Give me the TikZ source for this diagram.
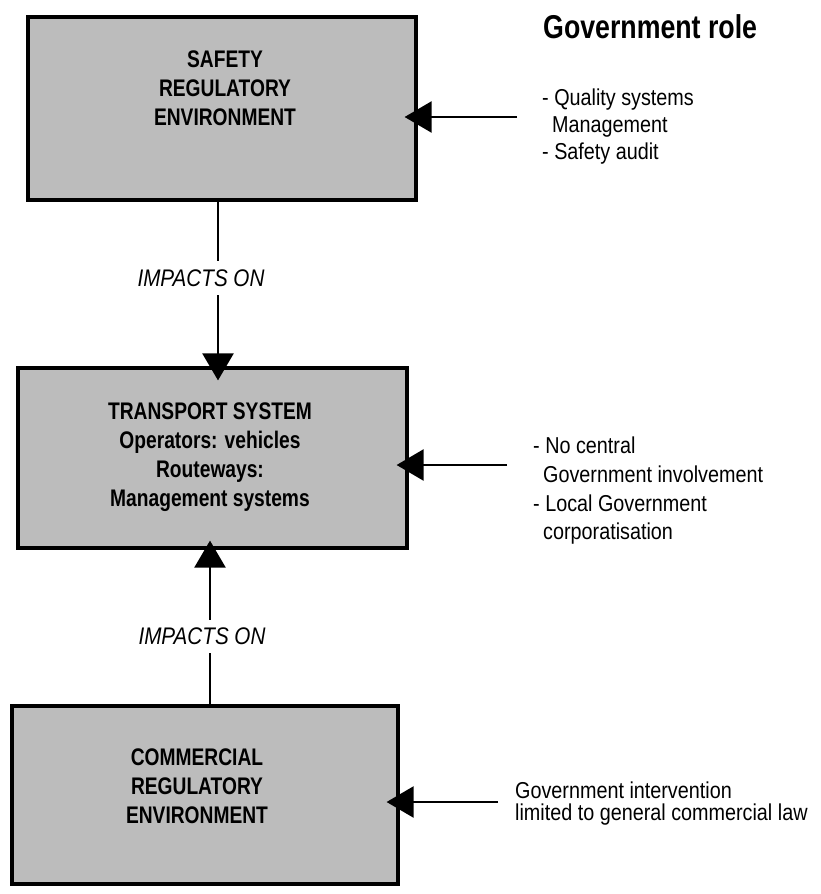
\documentclass[tikz,border=0pt]{standalone}
\usepackage{fontspec}
\setmainfont{Liberation Sans}
\newfontfamily\narrowA[FakeStretch=0.8]{Liberation Sans}
\newfontfamily\narrowB[FakeStretch=0.86]{Liberation Sans}
\newfontfamily\narrowC[FakeStretch=0.81]{Liberation Sans}
\usetikzlibrary{arrows.meta}
\definecolor{boxgray}{RGB}{188,188,188}
\begin{document}
\begin{tikzpicture}[x=1pt,y=-1pt,
  box/.style={draw, line width=3.2pt, fill=boxgray, inner sep=0pt},
  boxtext/.style={align=center, inner sep=0pt, font=\narrowA\bfseries\fontsize{24}{29}\selectfont},
  conn/.style={line width=2.4pt, -{Triangle[length=27pt,width=31pt]}},
  roletext/.style={anchor=base west, inner sep=0pt, font=\narrowB\fontsize{23}{28}\selectfont},
  impact/.style={font=\narrowB\itshape\fontsize{24}{28}\selectfont, fill=white, inner xsep=3pt}]
\useasboundingbox (0,0) rectangle (820,894);

% boxes
\node[box, minimum width=388pt, minimum height=183pt] (safety) at (222,108.5) {};
\node[box, minimum width=389pt, minimum height=180pt] (transport) at (212.5,458) {};
\node[box, minimum width=386pt, minimum height=178pt] (commercial) at (205,795) {};

\node[boxtext] (safetyt) at (225,88) {SAFETY\\REGULATORY\\ENVIRONMENT};
\node[boxtext] (transportt) at (210,457.5) {TRANSPORT SYSTEM\\Operators: vehicles\\Routeways:\\Management systems};
\node[boxtext] (commercialt) at (197,786.5) {COMMERCIAL\\REGULATORY\\ENVIRONMENT};

% vertical connectors
\coordinate (c1) at (218,0);
\coordinate (c2) at (210,0);
\draw[conn, shorten >=-14pt] (safety.south -| c1) -- (transport.north -| c1);
\draw[conn, shorten >=-9pt] (commercial.north -| c2) -- (transport.south -| c2);
\node[impact, inner ysep=9pt] (imp1) at (201,278) {IMPACTS ON};
\node[impact, inner ysep=8pt] (imp2) at (202,636) {IMPACTS ON};

% horizontal arrows
\coordinate (h1) at (517,117);
\coordinate (h2) at (507,465);
\coordinate (h3) at (498,802);
\draw[conn, shorten >=-13pt] (h1) -- (safety.east |- h1);
\draw[conn, shorten >=-12pt] (h2) -- (transport.east |- h2);
\draw[conn, shorten >=-13pt] (h3) -- (commercial.east |- h3);

% government role texts
\node[anchor=base west, inner sep=0pt, font=\narrowC\bfseries\fontsize{33}{38}\selectfont] (role) at (543,38) {Government role};

\node[roletext] (g1a) at (542,105) {- Quality systems};
\node[roletext] (g1b) at (552,132) {Management};
\node[roletext] (g1c) at (542,159) {- Safety audit};

\node[roletext] (g2a) at (533,453) {- No central};
\node[roletext] (g2b) at (543,482) {Government involvement};
\node[roletext] (g2c) at (533,511) {- Local Government};
\node[roletext] (g2d) at (543,539) {corporatisation};

\node[roletext] (g3a) at (515,798) {Government intervention};
\node[roletext] (g3b) at (515,820) {limited to general commercial law};
\end{tikzpicture}
\end{document}
